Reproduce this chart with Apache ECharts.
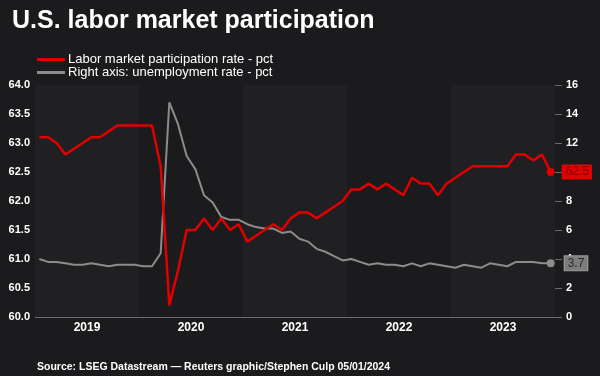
<!DOCTYPE html>
<html>
<head>
<meta charset="utf-8">
<script src="https://cdn.jsdelivr.net/npm/echarts@6/dist/echarts.min.js"></script>
<style>
  html, body { margin: 0; padding: 0; background: #1b1a1c; }
  #chart { width: 600px; height: 376px; }
</style>
</head>
<body>
<div id="chart"></div>
<script>
// monthly, Jan 2019 .. Dec 2023
var years = ['2019', '2020', '2021', '2022', '2023'];
var months = [];
years.forEach(function (y) {
  for (var m = 1; m <= 12; m++) months.push(y + '-' + (m < 10 ? '0' + m : m));
});

// labor market participation rate - pct (left axis)
var participation = [
  63.1, 63.1, 63.0, 62.8, 62.9, 63.0, 63.1, 63.1, 63.2, 63.3, 63.3, 63.3,
  63.3, 63.3, 62.6, 60.2, 60.8, 61.5, 61.5, 61.7, 61.5, 61.7, 61.5, 61.6,
  61.3, 61.4, 61.5, 61.6, 61.5, 61.7, 61.8, 61.8, 61.7, 61.8, 61.9, 62.0,
  62.2, 62.2, 62.3, 62.2, 62.3, 62.2, 62.1, 62.4, 62.3, 62.3, 62.1, 62.3,
  62.4, 62.5, 62.6, 62.6, 62.6, 62.6, 62.6, 62.8, 62.8, 62.7, 62.8, 62.5
];

// unemployment rate - pct (right axis)
var unemployment = [
  4.0, 3.8, 3.8, 3.7, 3.6, 3.6, 3.7, 3.6, 3.5, 3.6, 3.6, 3.6,
  3.5, 3.5, 4.4, 14.8, 13.3, 11.1, 10.2, 8.4, 7.9, 6.9, 6.7, 6.7,
  6.4, 6.2, 6.1, 6.1, 5.8, 5.9, 5.4, 5.2, 4.7, 4.5, 4.2, 3.9,
  4.0, 3.8, 3.6, 3.7, 3.6, 3.6, 3.5, 3.7, 3.5, 3.7, 3.6, 3.5,
  3.4, 3.6, 3.5, 3.4, 3.7, 3.6, 3.5, 3.8, 3.8, 3.8, 3.7, 3.7
];

var font = 'Liberation Sans, Arial, sans-serif';
var last = months.length - 1;
function lastDot(v, p) { return p.dataIndex === last ? 8 : 0; }

var chart = echarts.init(document.getElementById('chart'));
chart.setOption({
  backgroundColor: '#1b1a1c',
  animation: false,
  textStyle: { fontFamily: font },
  title: [{
    text: 'U.S. labor market participation',
    left: 7, top: 4,
    textStyle: { color: '#fff', fontSize: 25, fontWeight: 'bold', fontFamily: font }
  }, {
    text: 'Source: LSEG Datastream \u2014 Reuters graphic/Stephen Culp 05/01/2024',
    left: 32, top: 357,
    textStyle: { color: '#fff', fontSize: 10.5, fontWeight: 'bold', fontFamily: font }
  }],
  legend: {
    orient: 'vertical',
    left: 32, top: 48,
    itemWidth: 28, itemHeight: 3, itemGap: 0,
    icon: 'rect',
    textStyle: { color: '#fff', fontSize: 13, fontFamily: font, padding: [0, 0, 0, -2] },
    data: ['Labor market participation rate - pct', 'Right axis: unemployment rate - pct']
  },
  grid: { left: 35, right: 45, top: 85, bottom: 59 },
  xAxis: [{
    type: 'category',
    data: months,
    position: 'bottom',
    boundaryGap: true,
    axisLine: { show: false },
    axisTick: { show: false },
    axisLabel: { show: false }
  }, {
    type: 'category',
    data: years,
    position: 'bottom',
    boundaryGap: true,
    axisLine: { show: false },
    axisTick: { show: false },
    axisLabel: { color: '#fff', fontSize: 12, fontWeight: 'bold', margin: 5 },
    splitArea: { show: true, areaStyle: { color: ['#201f21', '#1b1a1c'] } }
  }],
  yAxis: [{
    type: 'value',
    min: 60, max: 64, interval: 0.5,
    axisLine: { show: false },
    axisTick: { show: false },
    axisLabel: {
      color: '#fff', fontSize: 11, fontWeight: 'bold', margin: 5,
      formatter: function (v) { return v.toFixed(1); }
    },
    splitLine: { lineStyle: { color: '#6a6a6a', width: 1 } }
  }, {
    type: 'value',
    min: 0, max: 16, interval: 2,
    position: 'right',
    axisLine: { show: false },
    axisTick: { show: true, length: 7, lineStyle: { color: '#6a6a6a' } },
    axisLabel: { color: '#fff', fontSize: 11, fontWeight: 'bold', margin: 11 },
    splitLine: { show: false }
  }],
  series: [{
    name: 'Labor market participation rate - pct',
    type: 'line',
    xAxisIndex: 0, yAxisIndex: 0,
    data: participation,
    color: '#e00000',
    lineStyle: { width: 2.5 },
    symbol: 'circle', symbolSize: lastDot, showAllSymbol: true,
    z: 3,
    endLabel: {
      show: true, distance: 11,
      formatter: function (p) { return p.value.toFixed(1); },
      color: '#7a0000', backgroundColor: '#e00000',
      fontSize: 12, padding: [2, 3, 1, 4]
    }
  }, {
    name: 'Right axis: unemployment rate - pct',
    type: 'line',
    xAxisIndex: 0, yAxisIndex: 1,
    data: unemployment,
    color: '#8c8c8c',
    lineStyle: { width: 2 },
    symbol: 'circle', symbolSize: lastDot, showAllSymbol: true,
    z: 2,
    endLabel: {
      show: true, distance: 14,
      formatter: function (p) { return p.value.toFixed(1); },
      color: '#2a2a2a', backgroundColor: '#7d7d7d',
      borderColor: '#9a9a9a', borderWidth: 1,
      fontSize: 12, padding: [1, 3, 1, 3]
    }
  }]
});
</script>
</body>
</html>
